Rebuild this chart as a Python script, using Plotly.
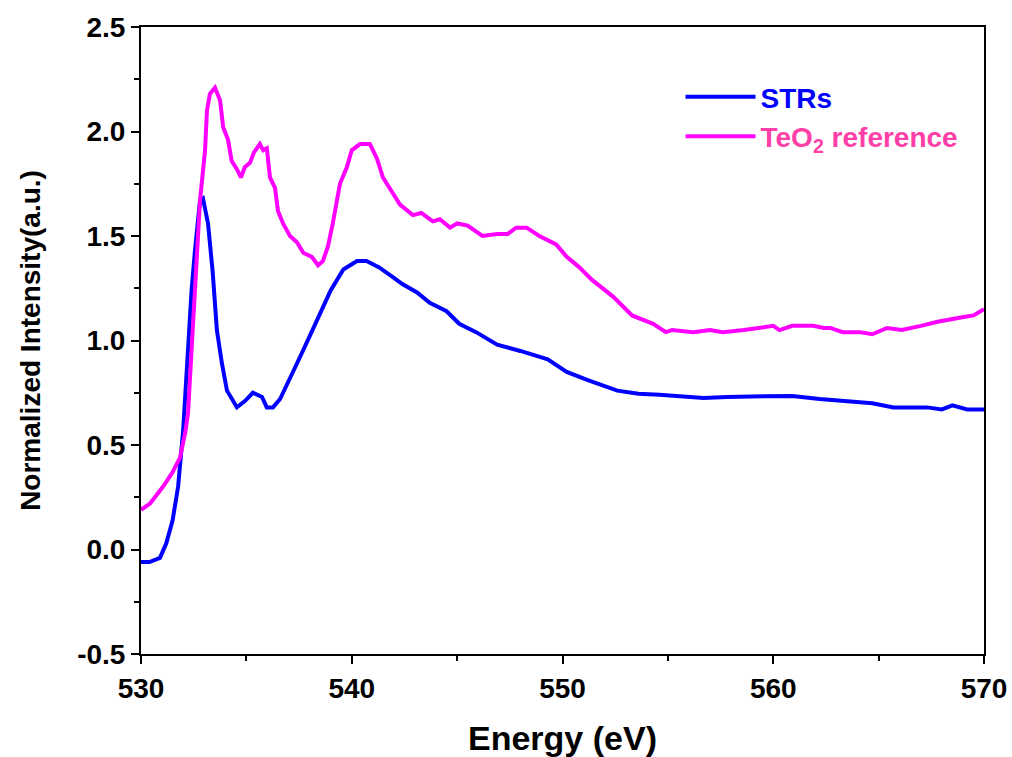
import plotly.graph_objects as go

# TeO2 reference (magenta)
teo2_x = [530.0, 530.43, 531.04, 531.5, 531.85, 532.1, 532.23, 532.4, 532.56, 532.8, 533.04,
          533.13, 533.27, 533.51, 533.75, 533.9, 534.13, 534.3, 534.55, 534.74, 534.93, 535.17,
          535.36, 535.64, 535.8, 535.97, 536.12, 536.36, 536.5, 536.74, 537.07, 537.4, 537.7,
          538.1, 538.4, 538.63, 538.87, 539.1, 539.44, 539.77, 540.0, 540.39, 540.86, 541.2,
          541.48, 541.8, 542.29, 542.9, 543.3, 543.57, 543.85, 544.18, 544.66, 545.0, 545.5,
          546.2, 546.9, 547.4, 547.8, 548.3, 548.9, 549.7, 550.2, 550.8, 551.4, 552.4, 553.3,
          554.3, 554.9, 555.2, 556.2, 557.0, 557.6, 558.6, 559.4, 560.0, 560.3, 560.9, 561.9,
          562.4, 562.7, 563.3, 564.1, 564.7, 565.4, 566.1, 567.0, 567.8, 568.9, 569.5, 570.0]
teo2_y = [0.19, 0.22, 0.30, 0.37, 0.44, 0.56, 0.65, 0.97, 1.19, 1.67, 1.91,
          2.10, 2.18, 2.21, 2.15, 2.02, 1.96, 1.86, 1.82, 1.78, 1.83, 1.85,
          1.90, 1.94, 1.91, 1.92, 1.78, 1.73, 1.62, 1.56, 1.50, 1.47, 1.42,
          1.40, 1.36, 1.38, 1.45, 1.56, 1.75, 1.83, 1.91, 1.94, 1.94, 1.87,
          1.78, 1.73, 1.65, 1.60, 1.61, 1.59, 1.57, 1.58, 1.54, 1.56, 1.55,
          1.50, 1.51, 1.51, 1.54, 1.54, 1.50, 1.46, 1.40, 1.35, 1.29, 1.21, 1.12,
          1.08, 1.04, 1.05, 1.04, 1.05, 1.04, 1.05, 1.06, 1.07, 1.05, 1.07, 1.07,
          1.06, 1.06, 1.04, 1.04, 1.03, 1.06, 1.05, 1.07, 1.09, 1.11, 1.12, 1.15]

# STRs (blue)
strs_x = [530.0, 530.4, 530.9, 531.2, 531.5, 531.76, 532.0, 532.23, 532.4, 532.56, 532.8,
          532.94, 533.18, 533.4, 533.6, 533.84, 534.08, 534.55, 534.93, 535.31, 535.74,
          535.97, 536.26, 536.6, 536.9, 537.4, 538.0, 538.6, 539.0, 539.6, 540.25, 540.7,
          541.3, 542.0, 542.4, 543.1, 543.7, 544.5, 545.1, 545.9, 546.9, 548.0, 549.3,
          550.2, 551.2, 552.6, 553.6, 554.6, 556.7, 557.8, 559.4, 560.9, 562.2, 563.5,
          564.7, 565.7, 567.3, 568.0, 568.5, 569.2, 570.0]
strs_y = [-0.06, -0.06, -0.04, 0.03, 0.14, 0.30, 0.57, 0.97, 1.24, 1.43, 1.67,
          1.68, 1.56, 1.33, 1.05, 0.89, 0.76, 0.68, 0.71, 0.75, 0.73,
          0.68, 0.68, 0.72, 0.78, 0.89, 1.02, 1.15, 1.24, 1.34, 1.38, 1.38,
          1.35, 1.30, 1.27, 1.23, 1.18, 1.14, 1.08, 1.04, 0.98, 0.95, 0.91,
          0.85, 0.81, 0.76, 0.745, 0.74, 0.725, 0.73, 0.735, 0.735, 0.72, 0.71,
          0.70, 0.68, 0.68, 0.67, 0.69, 0.67, 0.67]

x_ticks = [530, 540, 550, 560, 570]
y_ticks = [-0.5, 0.0, 0.5, 1.0, 1.5, 2.0, 2.5]

FONT = "Liberation Sans, Arial, sans-serif"

fig = go.Figure()
fig.add_trace(go.Scatter(x=strs_x, y=strs_y, mode="lines",
                         line=dict(color="#0000ff", width=4),
                         name="<span style='color:#0000ff'>STRs</span>"))
fig.add_trace(go.Scatter(x=teo2_x, y=teo2_y, mode="lines",
                         line=dict(color="#ff00ff", width=4),
                         name="<span style='color:#ff3fa8'>TeO<sub>2</sub> reference</span>"))

axis_common = dict(showgrid=False, zeroline=False, showline=True, linecolor="black",
                   linewidth=2, mirror=True, ticks="outside", ticklen=8, tickwidth=2,
                   tickcolor="black", automargin=False,
                   tickfont=dict(family=FONT, size=28, color="black", weight="bold"))

fig.update_xaxes(range=[530, 570], tickvals=x_ticks, ticktext=[str(v) for v in x_ticks],
                 minor=dict(dtick=5, ticks="outside", ticklen=5, tickwidth=2, tickcolor="black"),
                 title=dict(text="Energy (eV)", font=dict(family=FONT, size=34, color="black", weight="bold"), standoff=26),
                 **axis_common)
fig.update_yaxes(range=[-0.5, 2.5], tickvals=y_ticks, ticktext=[f"{v:.1f}" for v in y_ticks],
                 minor=dict(dtick=0.25, ticks="outside", ticklen=5, tickwidth=2, tickcolor="black"),
                 title=dict(text="Normalized Intensity(a.u.)", font=dict(family=FONT, size=28, color="black", weight="bold"), standoff=28),
                 **axis_common)

fig.update_layout(width=1012, height=757,
                  margin=dict(l=141, r=28, t=27, b=103),
                  paper_bgcolor="white", plot_bgcolor="white",
                  showlegend=True,
                  legend=dict(x=0.64, y=0.928, xanchor="left", yanchor="top",
                              bgcolor="rgba(0,0,0,0)", borderwidth=0,
                              font=dict(family=FONT, size=28, color="black", weight="bold"),
                              itemwidth=70, tracegroupgap=0))

fig.write_html("out.html")
